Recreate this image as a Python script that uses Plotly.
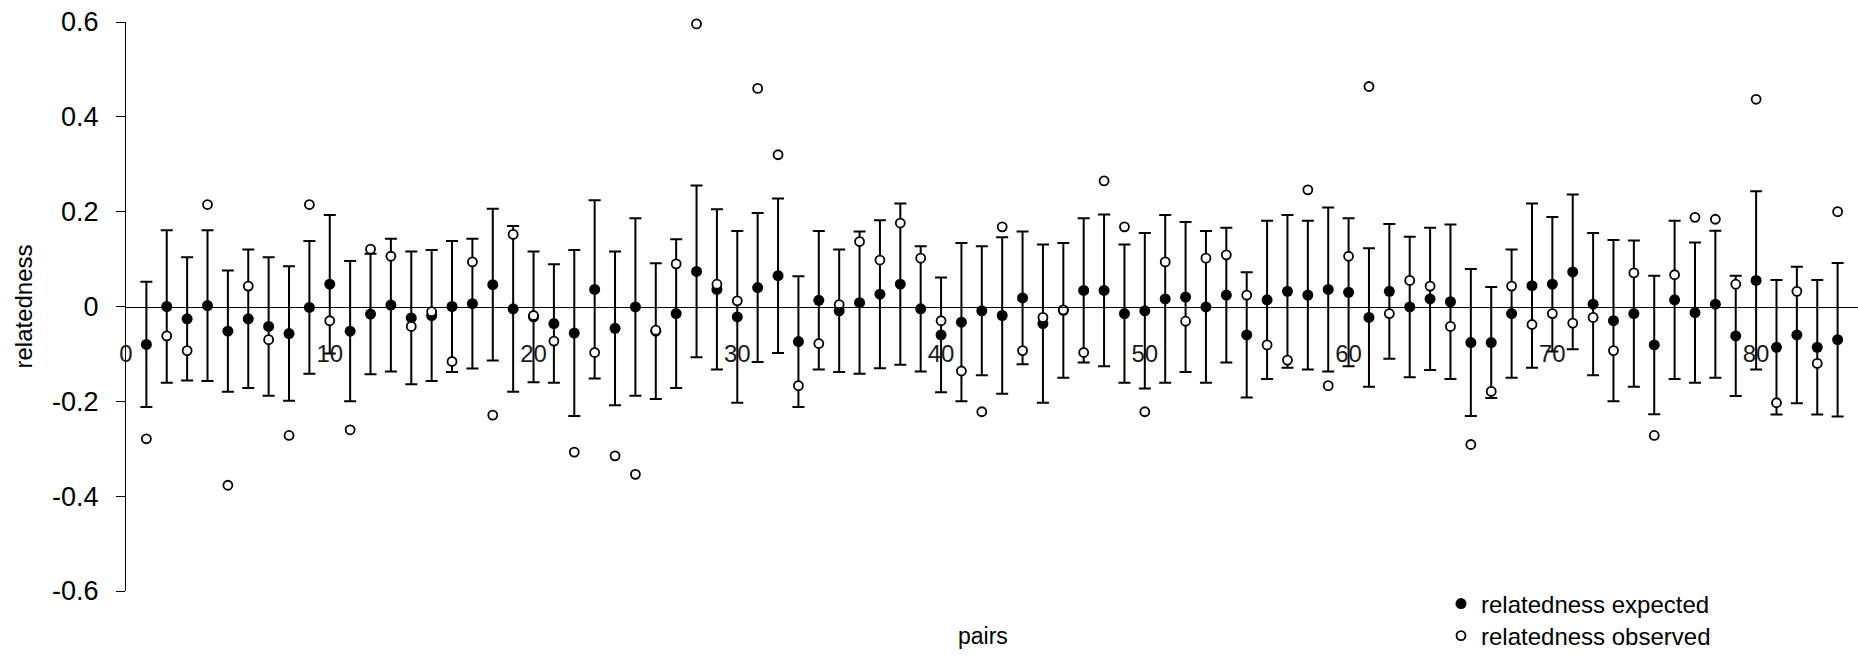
import plotly.graph_objects as go

# ---- data ----
pairs = list(range(1, 85))

expected = [
    -0.080, 0.000, -0.026, 0.002, -0.052, -0.026, -0.042, -0.057, -0.002, 0.047,
    -0.052, -0.016, 0.003, -0.024, -0.019, 0.000, 0.006, 0.046, -0.005, -0.022,
    -0.036, -0.056, 0.036, -0.046, -0.001, -0.052, -0.015, 0.074, 0.036, -0.022,
    0.040, 0.065, -0.074, 0.013, -0.009, 0.008, 0.026, 0.047, -0.005, -0.060,
    -0.033, -0.009, -0.019, 0.018, -0.036, -0.008, 0.034, 0.034, -0.015, -0.009,
    0.016, 0.020, -0.001, 0.024, -0.060, 0.014, 0.032, 0.024, 0.036, 0.030,
    -0.023, 0.032, -0.001, 0.016, 0.010, -0.076, -0.076, -0.015, 0.044, 0.047,
    0.073, 0.005, -0.030, -0.015, -0.081, 0.014, -0.013, 0.005, -0.062, 0.055,
    -0.086, -0.060, -0.086, -0.070,
]

error = [
    0.132, 0.161, 0.130, 0.159, 0.128, 0.146, 0.146, 0.142, 0.140, 0.146,
    0.148, 0.127, 0.140, 0.140, 0.138, 0.138, 0.137, 0.160, 0.175, 0.138,
    0.125, 0.175, 0.188, 0.162, 0.187, 0.143, 0.157, 0.181, 0.169, 0.181,
    0.157, 0.163, 0.138, 0.146, 0.129, 0.150, 0.156, 0.170, 0.132, 0.121,
    0.167, 0.136, 0.165, 0.140, 0.167, 0.142, 0.152, 0.160, 0.146, 0.164,
    0.177, 0.158, 0.160, 0.142, 0.132, 0.167, 0.161, 0.157, 0.173, 0.156,
    0.146, 0.142, 0.148, 0.150, 0.163, 0.155, 0.117, 0.135, 0.173, 0.142,
    0.163, 0.150, 0.170, 0.154, 0.146, 0.167, 0.148, 0.155, 0.127, 0.188,
    0.142, 0.144, 0.142, 0.162,
]

observed = [
    -0.279, -0.062, -0.093, 0.215, -0.377, 0.043, -0.070, -0.272, 0.215, -0.030,
    -0.260, 0.121, 0.106, -0.042, -0.011, -0.116, 0.094, -0.229, 0.152, -0.019,
    -0.073, -0.307, -0.097, -0.315, -0.354, -0.050, 0.090, 0.596, 0.047, 0.012,
    0.460, 0.320, -0.167, -0.078, 0.004, 0.137, 0.098, 0.176, 0.102, -0.030,
    -0.136, -0.222, 0.168, -0.093, -0.023, -0.007, -0.097, 0.265, 0.168, -0.222,
    0.094, -0.031, 0.102, 0.109, 0.024, -0.081, -0.113, 0.246, -0.167, 0.106,
    0.464, -0.015, 0.055, 0.043, -0.042, -0.291, -0.179, 0.043, -0.038, -0.015,
    -0.035, -0.023, -0.093, 0.071, -0.272, 0.067, 0.188, 0.184, 0.047, 0.437,
    -0.203, 0.032, -0.120, 0.200,
]

x_tickvals = [0, 10, 20, 30, 40, 50, 60, 70, 80]
x_ticktext = ["0", "10", "20", "30", "40", "50", "60", "70", "80"]
y_tickvals = [0.6, 0.4, 0.2, 0.0, -0.2, -0.4, -0.6]
y_ticktext = ["0.6", "0.4", "0.2", "0", "-0.2", "-0.4", "-0.6"]

FONT = "Liberation Sans, Arial, sans-serif"

fig = go.Figure()

fig.add_trace(go.Scatter(
    x=pairs, y=expected, mode="markers", name="relatedness expected",
    marker=dict(symbol="circle", size=11, color="black"),
    error_y=dict(type="data", array=error, visible=True, color="black",
                 thickness=2, width=6),
    cliponaxis=False, legend="legend",
))

fig.add_trace(go.Scatter(
    x=pairs, y=observed, mode="markers", name="relatedness observed",
    marker=dict(symbol="circle", size=9, color="white",
                line=dict(color="black", width=1.8)),
    cliponaxis=False, legend="legend2",
))

W, H = 1858, 657
L, R, T, B = 126, 0, 22, 66
plot_h = H - T - B

def py(pix):
    return (H - B - pix) / plot_h

def px(pix):
    return (pix - L) / (W - L - R)

fig.update_layout(
    width=W, height=H,
    margin=dict(l=L, r=R, t=T, b=B, autoexpand=False),
    paper_bgcolor="white", plot_bgcolor="white",
    font=dict(family=FONT, color="black"),
    showlegend=True,
    legend=dict(x=px(1441), y=py(604), xanchor="left", yanchor="middle",
                bgcolor="rgba(0,0,0,0)", borderwidth=0,
                font=dict(size=24, family=FONT, color="black")),
    legend2=dict(x=px(1441), y=py(636), xanchor="left", yanchor="middle",
                 bgcolor="rgba(0,0,0,0)", borderwidth=0,
                 font=dict(size=24, family=FONT, color="black")),
    xaxis=dict(
        range=[0, 85], anchor="free", position=py(306.5),
        showline=True, linecolor="black", linewidth=1,
        showgrid=False, zeroline=False,
        ticks="", tickvals=x_tickvals, ticktext=x_ticktext,
        tickfont=dict(size=24, family=FONT, color="#1a1a1a"),
        ticklabelstandoff=26, automargin=False,
    ),
    yaxis=dict(
        range=[-0.6, 0.6], showline=True, linecolor="black", linewidth=1,
        showgrid=False, zeroline=False,
        ticks="outside", ticklen=9, tickcolor="black", tickwidth=1,
        tickvals=y_tickvals, ticktext=y_ticktext,
        tickfont=dict(size=27, family=FONT, color="black"),
        ticklabelstandoff=12,
        title=dict(text="relatedness", font=dict(size=24, family=FONT, color="black"),
                   standoff=12),
        automargin=False,
    ),
    annotations=[dict(
        text="pairs", xref="paper", yref="paper", x=px(983), y=py(636),
        xanchor="center", yanchor="middle", showarrow=False,
        font=dict(size=23, family=FONT, color="black"),
    )],
)

fig.write_html("out.html")
